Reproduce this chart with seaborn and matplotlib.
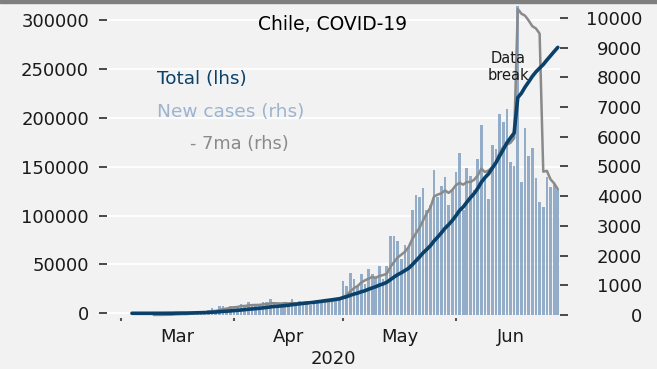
import numpy as np
import pandas as pd
import matplotlib
matplotlib.use("Agg")
import matplotlib.pyplot as plt
import seaborn as sns
from matplotlib.ticker import FixedLocator, FuncFormatter, NullFormatter

# ---------------- data ----------------
start_date = "2020-03-04"
new_cases = [
    1, 0, 3, 0, 4, 0, 5, 10, 0, 20, 18, 13, 81, 46, 37, 0, 104, 92, 103, 95,
    114, 176, 220, 164, 304, 299, 230, 310, 289,
    293, 373, 333, 424, 310, 344, 301, 430, 426, 529, 426, 286, 312, 392, 356,
    534, 445, 478, 358, 419, 325, 464, 516, 494, 552, 473, 482, 552, 520, 1138,
    985, 1427, 1228, 980, 1373, 1032, 1533, 1391, 1247, 1647, 1197, 1658, 2660,
    2659, 2502, 1886, 2353, 2278, 3520, 4038, 3964, 4276, 3536, 3709, 4895,
    3964, 4328, 4654, 3695, 4220, 4830,
    5471, 3527, 4942, 4664, 4207, 5246, 6405, 4696, 3913, 5737, 5596, 6754,
    6509, 6938, 5143, 5013, 36179, 4475, 6290, 5355, 5607, 4608, 3804, 3649,
    4648, 4296, 4406, 4216,
]
left_ticks = [0, 50000, 100000, 150000, 200000, 250000, 300000]
right_ticks = [0, 1000, 2000, 3000, 4000, 5000, 6000, 7000, 8000, 9000, 10000]
month_starts = ["2020-03-01", "2020-04-01", "2020-05-01", "2020-06-01"]
month_labels = ["Mar", "Apr", "May", "Jun"]
month_mids = ["2020-03-16 12:00", "2020-04-16 00:00", "2020-05-16 12:00", "2020-06-16 00:00"]

# ---------------- style ----------------
sns.set_theme(style="white")
plt.rcParams["font.family"] = ["DejaVu Sans"]

BG = "#f2f2f2"
BLUE = "#0a416b"
BAR = "#93adc9"
GRAY = "#8a8a8a"
TXT = "#1a1a1a"

dates = pd.date_range(start_date, periods=len(new_cases))
df = pd.DataFrame({"date": dates, "new": new_cases})
df["total"] = df["new"].cumsum()
df["ma7"] = df["new"].rolling(7).mean()

W, H = 657, 369
fig = plt.figure(figsize=(W / 100, H / 100), dpi=100, facecolor=BG)


def fx(px):
    return px / W


def fy(py):
    return 1 - py / H


ax = fig.add_axes([fx(107), fy(318), fx(560) - fx(107), fy(6) - fy(318)])
ax.set_facecolor(BG)
ax.set_axisbelow(True)

ax2 = ax.twinx()
ax2.bar(df["date"], df["new"], width=0.74, color=BAR, linewidth=0, zorder=2)
sns.lineplot(data=df, x="date", y="ma7", ax=ax2, color=GRAY, lw=1.8, zorder=3)

ax3 = ax.twinx()
sns.lineplot(data=df, x="date", y="total", ax=ax3, color=BLUE, lw=2.6)

ax.set_ylim(-4807, 314300)
ax3.set_ylim(-4807, 314300)
ax2.set_ylim(-101, 10404)

m1 = pd.Timestamp("2020-03-01")
ax.set_xlim(m1 - pd.Timedelta(days=3.85), m1 + pd.Timedelta(days=120.6))

for a in (ax, ax2, ax3):
    for s in a.spines.values():
        s.set_visible(False)
ax3.set_axis_off()
ax2.set_ylabel("")
ax2.set_xlabel("")

# grid
ax.yaxis.grid(True, color="white", lw=1.3)
ax.xaxis.grid(False)

# y ticks
ax.yaxis.set_major_locator(FixedLocator(left_ticks))
ax.yaxis.set_major_formatter(FuncFormatter(lambda v, p: f"{v:.0f}"))
ax.tick_params(axis="y", left=True, length=6, width=1.1, color=TXT, pad=7,
               labelsize=13, labelcolor=TXT)
ax2.yaxis.set_major_locator(FixedLocator(right_ticks))
ax2.yaxis.set_major_formatter(FuncFormatter(lambda v, p: f"{v:.0f}"))
ax2.tick_params(axis="y", right=True, length=6, width=1.1, color=TXT, pad=53,
                labelsize=13, labelcolor=TXT)
for t in ax2.get_yticklabels():
    t.set_horizontalalignment("right")
ax.set_ylabel("")

# x ticks
ax.xaxis.set_major_locator(FixedLocator([matplotlib.dates.date2num(pd.Timestamp(d)) for d in month_mids]))
ax.xaxis.set_major_formatter(FuncFormatter(lambda v, p: month_labels[p] if p is not None and p < len(month_labels) else ""))
ax.xaxis.set_minor_locator(FixedLocator([matplotlib.dates.date2num(pd.Timestamp(d)) for d in month_starts]))
ax.xaxis.set_minor_formatter(NullFormatter())
ax.tick_params(axis="x", which="major", bottom=True, length=0, pad=7, labelsize=13, labelcolor=TXT)
ax.tick_params(axis="x", which="minor", bottom=True, length=2, width=1.5, color="#555555")
ax.set_xlabel("2020", fontsize=13, color=TXT, labelpad=3)

# texts
fig.text(fx(333), fy(25), "Chile, COVID-19", ha="center", va="center", fontsize=13.5, color="black")
fig.text(fx(157), fy(79), "Total (lhs)", ha="left", va="center", fontsize=13.2, color=BLUE, fontweight="medium")
fig.text(fx(157), fy(112), "New cases (rhs)", ha="left", va="center", fontsize=13.3, color="#9db4cf")
fig.text(fx(190), fy(144), "- 7ma (rhs)", ha="left", va="center", fontsize=12.8, color=GRAY)
fig.text(fx(508), fy(67), "Data\nbreak", ha="center", va="center", fontsize=10.5, color=TXT, linespacing=1.1)

# top border
fig.add_artist(plt.Rectangle((0, fy(3)), 1, fy(0) - fy(3), transform=fig.transFigure,
                             color="#7f7f7f", zorder=10))

fig.savefig("out.png", dpi=100, facecolor=BG)
